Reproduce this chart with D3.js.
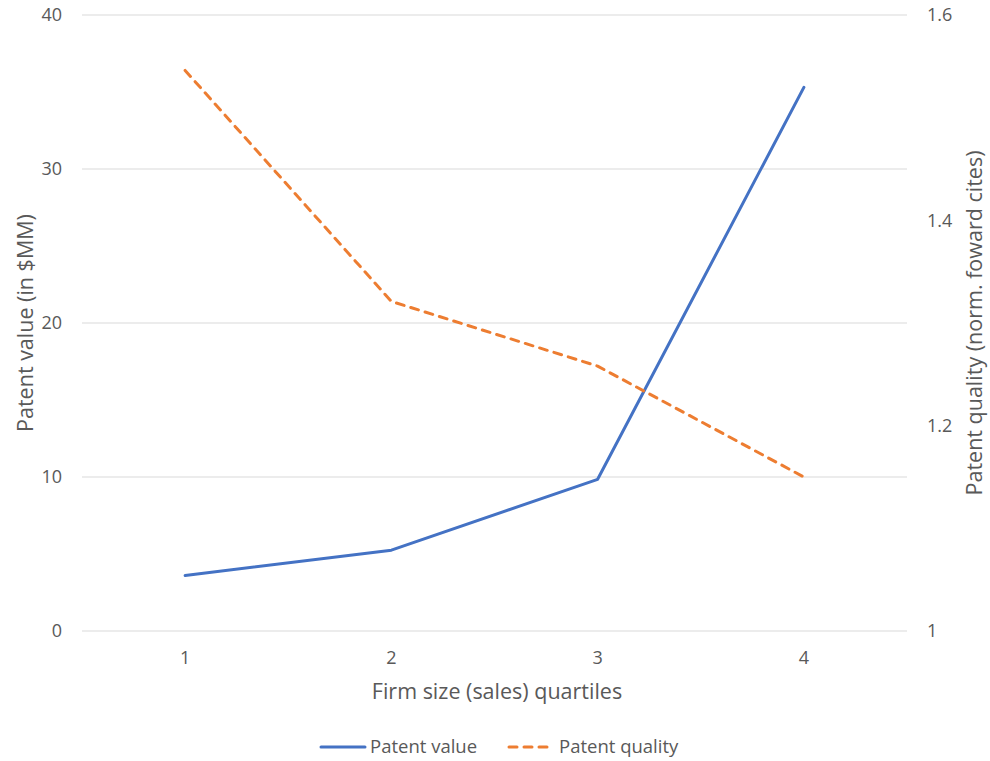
<!DOCTYPE html>
<html><head><meta charset="utf-8">
<script src="https://cdn.jsdelivr.net/npm/d3@7"></script>
<style>body{margin:0;background:#fff}svg{display:block;font-family:"Open Sans","Noto Sans",sans-serif}</style>
</head><body>
<svg id="c" width="990" height="761"></svg>
<script>
const categories = ["1","2","3","4"];
const patentValue = [3.6, 5.25, 9.85, 35.3];
const patentQuality = [1.546, 1.321, 1.258, 1.150];
const leftTicks = [0, 10, 20, 30, 40];
const rightTicks = [1, 1.2, 1.4, 1.6];

const svg = d3.select("#c");
const L = 82, R = 907, T = 15, B = 631;
const x = d3.scaleBand().domain(categories).range([L, R]);
const yL = d3.scaleLinear().domain([0, 40]).range([B, T]);
const yR = d3.scaleLinear().domain([1, 1.6]).range([B, T]);
const cx = d => x(d) + x.bandwidth() / 2;
const txt = "#595959";

svg.append("g").selectAll("line").data(leftTicks).join("line")
  .attr("x1", L).attr("x2", R).attr("y1", d => yL(d)).attr("y2", d => yL(d))
  .attr("stroke", "#d9d9d9").attr("stroke-width", 1);

const axL = svg.append("g").attr("transform", `translate(${L},0)`)
  .call(d3.axisLeft(yL).tickValues(leftTicks).tickSize(0).tickPadding(20).tickFormat(d3.format("d")));
const axR = svg.append("g").attr("transform", `translate(${R},0)`)
  .call(d3.axisRight(yR).tickValues(rightTicks).tickSize(0).tickPadding(20).tickFormat(d => d === 1 ? "1" : d3.format(".1f")(d)));
const axB = svg.append("g").attr("transform", `translate(0,${B})`)
  .call(d3.axisBottom(x).tickSize(0).tickPadding(20));
[axL, axR, axB].forEach(a => {
  a.select(".domain").remove();
  a.selectAll("text").attr("fill", txt).style("font-size", "18px").style("font-family", '"Open Sans","Noto Sans",sans-serif');
});

svg.append("path").datum(categories.map((c, i) => [cx(c), yL(patentValue[i])]))
  .attr("d", d3.line()).attr("fill", "none").attr("stroke", "#4472C4")
  .attr("stroke-width", 3).attr("stroke-linejoin", "round").attr("stroke-linecap", "round");
svg.append("path").datum(categories.map((c, i) => [cx(c), yR(patentQuality[i])]))
  .attr("d", d3.line()).attr("fill", "none").attr("stroke", "#ED7D31")
  .attr("stroke-width", 3).attr("stroke-dasharray", "8,7").attr("stroke-linejoin", "round").attr("stroke-linecap", "round");

svg.append("text").attr("transform", `translate(33,${(T + B) / 2}) rotate(-90)`)
  .attr("text-anchor", "middle").attr("fill", txt).style("font-size", "21.5px").text("Patent value (in $MM)");
svg.append("text").attr("transform", `translate(982,${(T + B) / 2}) rotate(-90)`)
  .attr("text-anchor", "middle").attr("fill", txt).style("font-size", "21.5px").text("Patent quality (norm. foward cites)");
svg.append("text").attr("x", 497).attr("y", 699).attr("text-anchor", "middle")
  .attr("fill", txt).style("font-size", "21.5px").text("Firm size (sales) quartiles");

const lg = svg.append("g");
lg.append("line").attr("x1", 321).attr("x2", 365).attr("y1", 747).attr("y2", 747).attr("stroke", "#4472C4").attr("stroke-width", 3).attr("stroke-linecap", "round");
lg.append("text").attr("x", 370).attr("y", 753).attr("fill", txt).style("font-size", "18.5px").text("Patent value");
lg.append("line").attr("x1", 509).attr("x2", 550).attr("y1", 747).attr("y2", 747).attr("stroke", "#ED7D31").attr("stroke-width", 3).attr("stroke-dasharray", "8,7").attr("stroke-linecap", "round");
lg.append("text").attr("x", 559).attr("y", 753).attr("fill", txt).style("font-size", "18.5px").text("Patent quality");
</script>
</body></html>
